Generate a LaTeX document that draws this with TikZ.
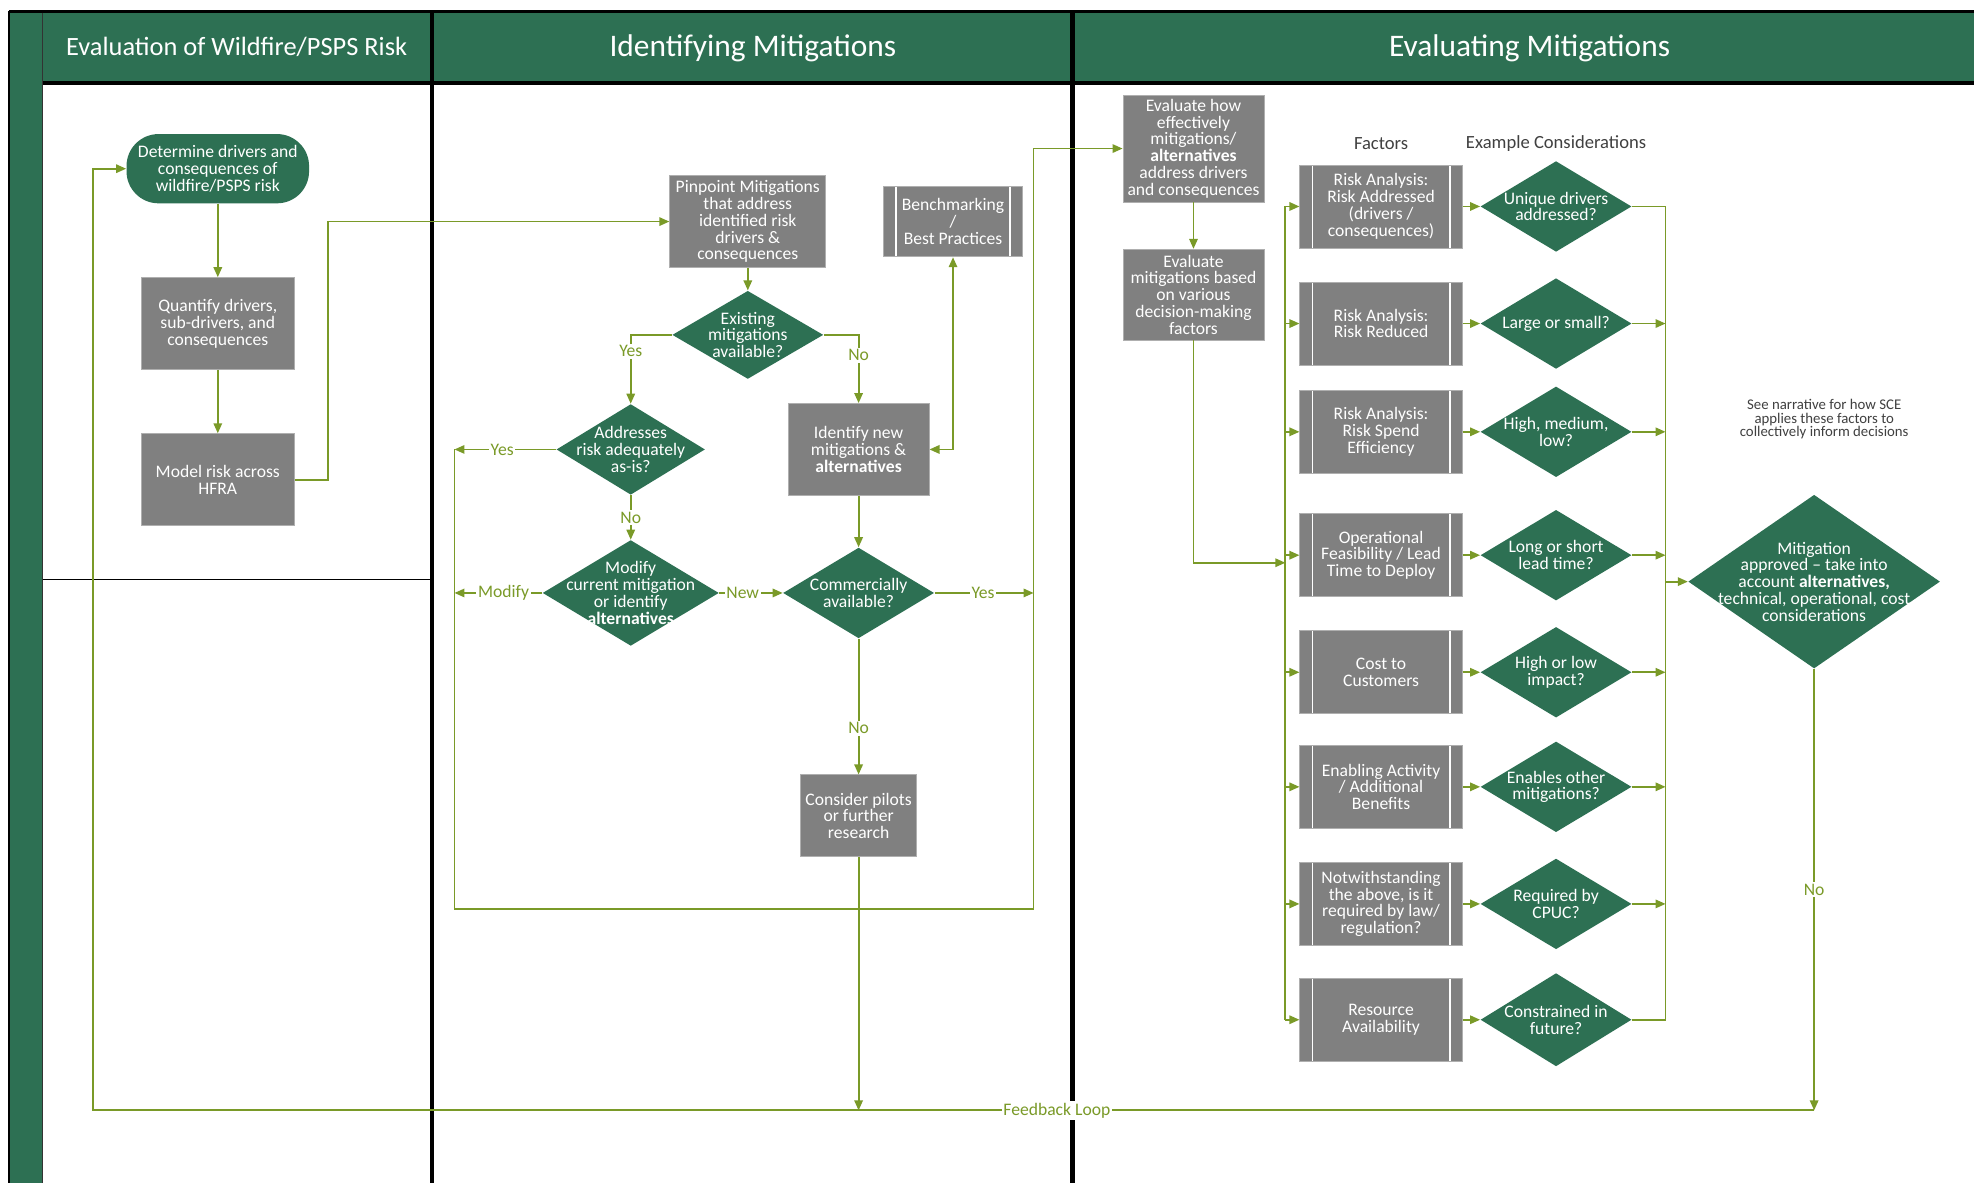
\documentclass[tikz,border=0pt]{standalone}
\usepackage{fontspec}
\setmainfont{Carlito}
\usetikzlibrary{shapes.geometric,arrows.meta,calc}
\definecolor{hgreen}{RGB}{45,112,83}
\definecolor{boxgray}{RGB}{128,128,128}
\definecolor{boxedge}{RGB}{175,175,175}
\definecolor{lineol}{RGB}{122,154,40}
\definecolor{darktxt}{RGB}{64,64,64}
\def\pxu{0.6295pt}
\newcommand\nodefont{\fontsize{8.8pt}{8.4pt}\selectfont}
\newcommand\lblfont{\fontsize{8.8pt}{8.4pt}\selectfont}
\tikzset{
  sz/.style 2 args={minimum width=#1*\pxu, minimum height=#2*\pxu},
  gbox/.style={rectangle, fill=boxgray, draw=boxedge, line width=0.4pt, text=white, align=center, inner sep=0pt, font=\nodefont},
  ppbox/.style={gbox, path picture={
     \draw[white, line width=0.9pt] ([xshift=6.3pt]path picture bounding box.north west) -- ([xshift=6.3pt]path picture bounding box.south west);
     \draw[white, line width=0.9pt] ([xshift=-6.3pt]path picture bounding box.north east) -- ([xshift=-6.3pt]path picture bounding box.south east);}},
  dia/.style={diamond, fill=hgreen, draw=none, inner sep=0pt},
  dtext/.style={text=white, align=center, inner sep=0pt, font=\nodefont},
  conn/.style={draw=lineol, line width=0.9pt},
  arr/.style={conn, -{Triangle[length=5pt,width=4.2pt]}},
  darr/.style={conn, {Triangle[length=5pt,width=4.2pt]}-{Triangle[length=5pt,width=4.2pt]}},
  lbl/.style={fill=white, text=lineol, inner sep=0.8pt, font=\lblfont},
  hdr/.style={text=white, inner sep=0pt, font=\fontsize{15.7pt}{18pt}\selectfont},
  hdrs/.style={text=white, inner sep=0pt, font=\fontsize{13.2pt}{16pt}\selectfont},
  colh/.style={text=darktxt, inner sep=0pt, font=\fontsize{9.3pt}{11pt}\selectfont},
  note/.style={text=darktxt, align=center, inner sep=0pt, font=\fontsize{7.4pt}{6.6pt}\selectfont},
}
\begin{document}
\begin{tikzpicture}[x=0.6295pt,y=-0.6295pt]
\useasboundingbox (0,0) rectangle (1568,940);
\fill[white] (0,0) rectangle (1568,940);
% ---------- swimlane frame ----------
\fill[hgreen] (8,10) rectangle (34,940);
\fill[hgreen] (34,10) rectangle (1568,65);
\draw[black, line width=1.8pt] (7,9) -- (1568,9);
\draw[black, line width=1.2pt] (7,9) -- (7,940);
\draw[black!80, line width=0.6pt] (34,10) -- (34,940);
\draw[black, line width=1.6pt] (34,66) -- (1568,66);
\draw[black, line width=2.2pt] (343,9) -- (343,940);
\draw[black, line width=2.2pt] (852,9) -- (852,940);
\draw[black, line width=0.6pt] (34,460) -- (343,460);
\node[hdrs] (h1) at (188,37) {Evaluation of Wildfire/PSPS Risk};
\node[hdr] (h2) at (598,38) {Identifying Mitigations};
\node[hdr] (h3) at (1215,38) {Evaluating Mitigations};
% ---------- lane 1 ----------
\node[rectangle, rounded corners=16pt, fill=hgreen, text=white, align=center, inner sep=0pt, font=\nodefont, sz={145}{55}] (det) at (173,134) {Determine drivers and\\consequences of\\wildfire/PSPS risk};
\node[gbox, sz={122}{73}] (quant) at (173,257) {Quantify drivers,\\sub-drivers, and\\consequences};
\node[gbox, sz={122}{73}] (model) at (173,381) {Model risk across\\HFRA};
% ---------- lane 2 ----------
\node[gbox, sz={124}{73}] (pin) at (594,176) {Pinpoint Mitigations\\that address\\identified risk\\drivers \&\\consequences};
\node[ppbox, sz={111}{56}] (bench) at (757,176) {Benchmarking\\/\\Best Practices};
\node[dia, sz={120}{70}] (exist) at (594,266) {};
\node[dtext] (exist-t) at (exist) {Existing\\mitigations\\available?};
\node[dia, sz={118}{72}] (adq) at (501,357) {};
\node[dtext] (adq-t) at (adq) {Addresses\\risk adequately\\as-is?};
\node[gbox, sz={112}{73}] (idnew) at (682,357) {Identify new\\mitigations \&\\\textbf{alternatives}};
\node[dia, sz={140}{84}] (mod) at (501,471) {};
\node[dtext] (mod-t) at (mod) {Modify\\current mitigation\\or identify\\\textbf{alternatives}};
\node[dia, sz={120}{72}] (comm) at (682,471) {};
\node[dtext] (comm-t) at (comm) {Commercially\\available?};
\node[gbox, sz={92}{65}] (pilots) at (682,648) {Consider pilots\\or further\\research};
% ---------- lane 3 ----------
\node[gbox, sz={112}{85}] (evalhow) at (948,118) {Evaluate how\\effectively\\mitigations/\\\textbf{alternatives}\\address drivers\\and consequences};
\node[gbox, sz={112}{72}] (evalbased) at (948,234) {Evaluate\\mitigations based\\on various\\decision-making\\factors};
\node[colh] (colf) at (1097,114) {Factors};
\node[colh] (colc) at (1236,114) {Example Considerations};
\node[ppbox, sz={129}{66}] (f1) at (1097,164) {Risk Analysis:\\Risk Addressed\\(drivers /\\consequences)};
\node[ppbox, sz={129}{66}] (f2) at (1097,257) {Risk Analysis:\\Risk Reduced};
\node[ppbox, sz={129}{66}] (f3) at (1097,343) {Risk Analysis:\\Risk Spend\\Efficiency};
\node[ppbox, sz={129}{66}] (f4) at (1097,441) {Operational\\Feasibility / Lead\\Time to Deploy};
\node[ppbox, sz={129}{66}] (f5) at (1097,534) {Cost to\\Customers};
\node[ppbox, sz={129}{66}] (f6) at (1097,625) {Enabling Activity\\/ Additional\\Benefits};
\node[ppbox, sz={129}{66}] (f7) at (1097,718) {Notwithstanding\\the above, is it\\required by law/\\regulation?};
\node[ppbox, sz={129}{66}] (f8) at (1097,810) {Resource\\Availability};
\node[dia, sz={120}{72}] (d1) at (1236,164) {};
\node[dtext] (d1-t) at (d1) {Unique drivers\\addressed?};
\node[dia, sz={120}{72}] (d2) at (1236,257) {};
\node[dtext] (d2-t) at (d2) {Large or small?};
\node[dia, sz={120}{72}] (d3) at (1236,343) {};
\node[dtext] (d3-t) at (d3) {High, medium,\\low?};
\node[dia, sz={120}{72}] (d4) at (1236,441) {};
\node[dtext] (d4-t) at (d4) {Long or short\\lead time?};
\node[dia, sz={120}{72}] (d5) at (1236,534) {};
\node[dtext] (d5-t) at (d5) {High or low\\impact?};
\node[dia, sz={120}{72}] (d6) at (1236,625) {};
\node[dtext] (d6-t) at (d6) {Enables other\\mitigations?};
\node[dia, sz={120}{72}] (d7) at (1236,718) {};
\node[dtext] (d7-t) at (d7) {Required by\\CPUC?};
\node[dia, sz={120}{74}] (d8) at (1236,810) {};
\node[dtext] (d8-t) at (d8) {Constrained in\\future?};
\node[dia, sz={200}{138}] (app) at (1441,462) {};
\node[dtext] (app-t) at (app) {Mitigation\\approved – take into\\account \textbf{alternatives,}\\technical, operational, cost\\considerations};
\node[note] (note) at (1449,333) {See narrative for how SCE\\applies these factors to\\collectively inform decisions};
% ---------- coordinates ----------
\coordinate (lpY) at (361,357);
\coordinate (lpM) at (361,471);
\coordinate (lpBL) at (361,722);
\coordinate (lpBR) at (821,722);
\coordinate (lpC) at (821,471);
\coordinate (busA) at (1021,447);
\coordinate (busB) at (1323,462);
\coordinate (fbR) at (1441,882);
\coordinate (fbP) at (682,882);
\coordinate (fbL) at (74,882);
% ---------- connectors lane 1 ----------
\draw[arr] (det.south) -- (quant.north);
\draw[arr] (quant.south) -- (model.north);
\draw[arr] (model.east) -- ++(26,0) |- (pin.west);
% ---------- connectors lane 2 ----------
\draw[arr] (pin.south) -- (exist.north);
\draw[arr] (exist.west) -| node[lbl, pos=0.62]{Yes} (adq.north);
\draw[arr] (exist.east) -| node[lbl, pos=0.65]{No} (idnew.north);
\draw[arr] (adq.west) -- node[lbl, pos=0.53]{Yes} (lpY);
\draw[arr] (adq.south) -- node[lbl]{No} (mod.north);
\draw[arr] (mod.west) -- node[lbl, pos=0.44]{Modify} (lpM);
\draw[arr] (mod.east) -- node[lbl, pos=0.37]{New} (comm.west);
\draw[darr] (idnew.east) -| (bench.south);
\draw[arr] (idnew.south) -- (comm.north);
\draw[arr] (comm.east) -- node[lbl, pos=0.49]{Yes} (lpC);
\draw[arr] (comm.south) -- node[lbl, pos=0.66]{No} (pilots.north);
\draw[arr] (lpY) -- (lpBL) -- (lpBR) |- (evalhow.west);
\draw[arr] (pilots.south) -- (fbP);
% ---------- connectors lane 3 ----------
\draw[arr] (evalhow.south) -- (evalbased.north);
\draw[arr] (evalbased.south) |- (busA);
\draw[conn] (f1.west -| busA) -- (f8.west -| busA);
\foreach \i in {1,...,8} {
  \draw[arr] (f\i.west -| busA) -- (f\i.west);
  \draw[arr] (f\i.east) -- (d\i.west);
}
\draw[conn] (d1.east) -- (d1.east -| busB) -- (d8.east -| busB) -- (d8.east);
\foreach \i in {2,...,7} {
  \draw[arr] (d\i.east) -- (d\i.east -| busB);
}
\draw[arr] (busB) -- (app.west);
\draw[arr] (app.south) -- node[lbl]{No} (fbR);
\draw[arr] (fbR) -- node[lbl, pos=0.44]{Feedback Loop} (fbL) |- (det.west);
\end{tikzpicture}
\end{document}
